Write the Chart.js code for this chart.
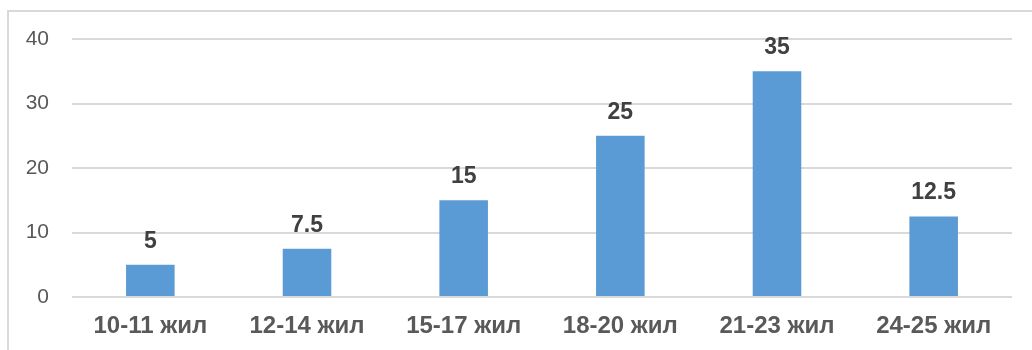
<!DOCTYPE html>
<html>
<head>
<meta charset="utf-8">
<script src="https://cdn.jsdelivr.net/npm/chart.js@4/dist/chart.umd.min.js"></script>
<style>
  html, body { margin: 0; padding: 0; background: #fff; }
  #wrap { position: relative; width: 1032px; height: 350px; overflow: hidden; }
  #frame { position: absolute; left: 7px; top: 10px; width: 1100px; height: 400px;
           border: 2px solid #d9d9d9; box-sizing: border-box; }
  #chart { position: absolute; left: 0; top: 0; }
</style>
</head>
<body>
<div id="wrap">
  <div id="frame"></div>
  <canvas id="chart" width="1032" height="350"></canvas>
</div>
<script>
// age groups and their values
var categories = ['10-11 жил', '12-14 жил', '15-17 жил', '18-20 жил', '21-23 жил', '24-25 жил']
var values = [5, 7.5, 15, 25, 35, 12.5]
var yTicks = [0, 10, 20, 30, 40]

var barLabels = {
    id: 'barLabels',
    afterDatasetsDraw: function (chart) {
        var ctx = chart.ctx
        var meta = chart.getDatasetMeta(0)
        ctx.save()
        ctx.font = 'bold 23px "Liberation Sans", Arial, sans-serif'
        ctx.fillStyle = '#404040'
        ctx.textAlign = 'center'
        ctx.textBaseline = 'alphabetic'
        meta.data.forEach(function (bar, i) {
            ctx.fillText(String(values[i]), bar.x, bar.y - 17)
        })
        ctx.restore()
    }
}

var ctx = document.getElementById('chart')
var myChart = new Chart(ctx, {
    type: 'bar',
    data: {
        labels: categories,
        datasets: [{
            data: values,
            backgroundColor: '#5b9bd5',
            borderColor: '#5b9bd5',
            borderWidth: 0,
            categoryPercentage: 1,
            barPercentage: 0.31
        }]
    },
    options: {
        responsive: false,
        animation: false,
        layout: { padding: { top: 39, right: 20, left: 0, bottom: 0 } },
        plugins: {
            legend: { display: false },
            tooltip: { enabled: false }
        },
        scales: {
            x: {
                grid: { display: false, drawTicks: false },
                border: { display: false },
                ticks: {
                    color: '#595959',
                    padding: 15,
                    maxRotation: 0,
                    font: { family: '"Liberation Sans", Arial, sans-serif', size: 24, weight: 'bold' }
                },
                afterFit: function (s) { s.height = 53 }
            },
            y: {
                min: 0,
                max: 40,
                afterBuildTicks: function (s) { s.ticks = yTicks.map(function (v) { return { value: v } }) },
                grid: { color: '#d9d9d9', lineWidth: 2, drawTicks: false },
                border: { display: false },
                ticks: {
                    color: '#595959',
                    padding: 23,
                    font: { family: '"Liberation Sans", Arial, sans-serif', size: 21 }
                },
                afterFit: function (s) { s.width = 72 }
            }
        }
    },
    plugins: [barLabels]
})
</script>
</body>
</html>
